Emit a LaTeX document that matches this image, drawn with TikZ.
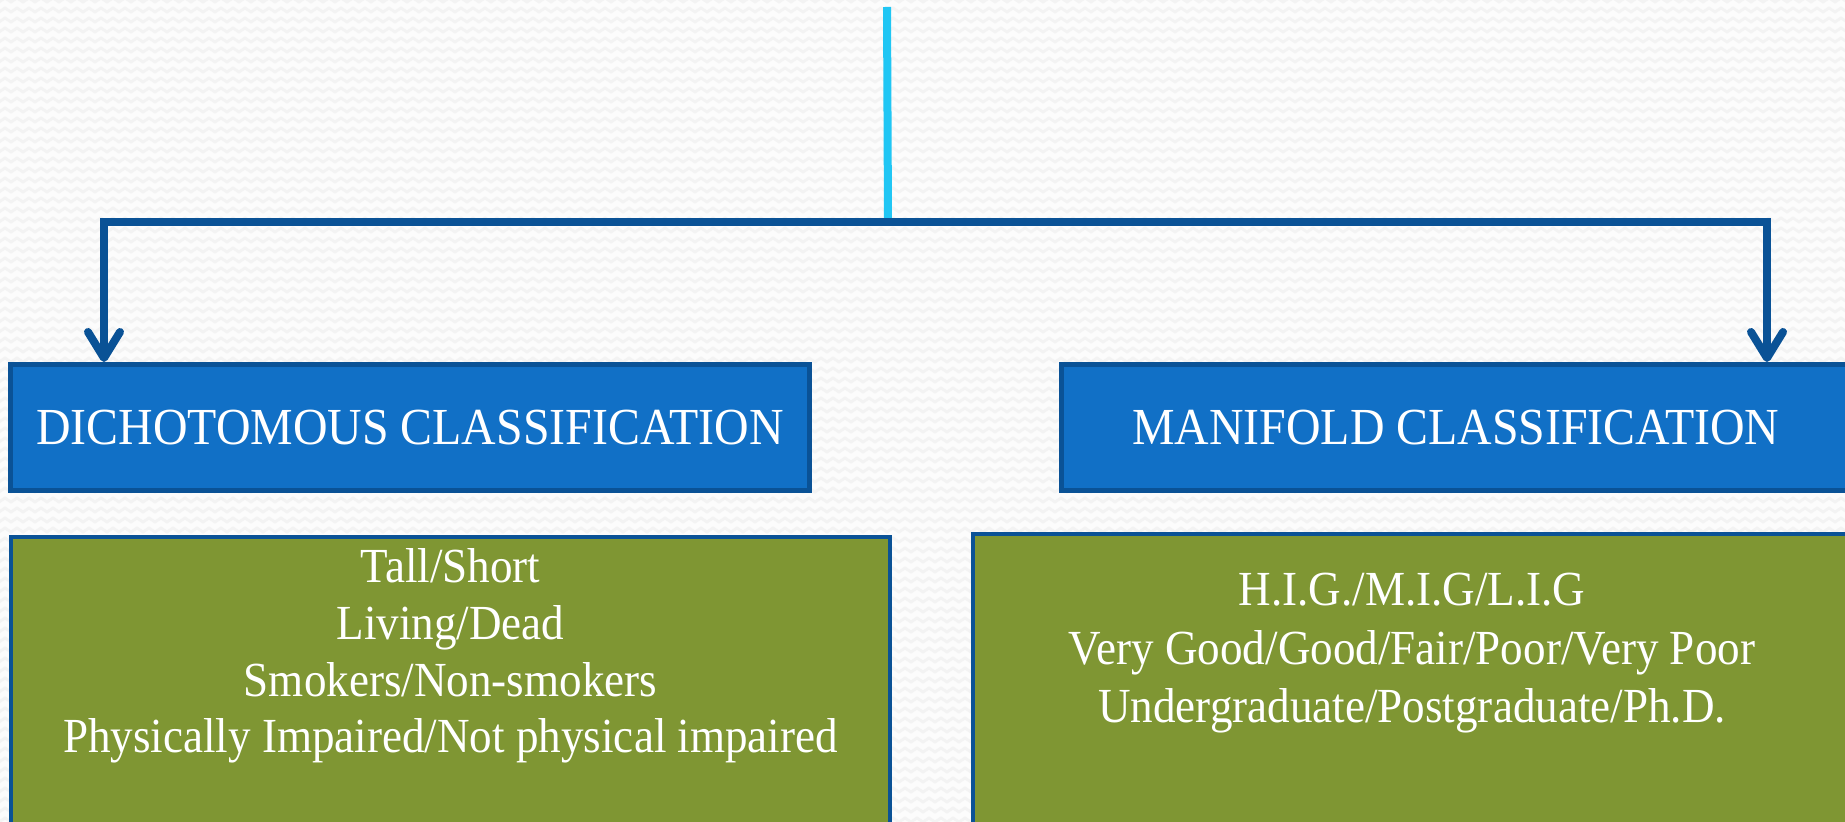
\documentclass[tikz,border=0pt]{standalone}
\usepackage{fontspec}
\setmainfont[FakeStretch=0.92]{Liberation Serif}
\usetikzlibrary{arrows.meta,decorations.pathmorphing}
\definecolor{pagebg}{HTML}{FCFCFC}
\definecolor{pagewave}{HTML}{F3F3F3}
\definecolor{boxblue}{HTML}{1170C6}
\definecolor{edgeblue}{HTML}{0A5296}
\definecolor{listgreen}{HTML}{7F9633}
\definecolor{feedcyan}{HTML}{20C6F4}
\begin{document}
\begin{tikzpicture}[x=0.5pt,y=-0.5pt,
  headbox/.style={draw=edgeblue, line width=2.5pt, fill=boxblue, text=white,
    font=\fontsize{26}{30}\selectfont, inner sep=0pt, minimum height=63pt},
  listbox/.style={draw=edgeblue, line width=2pt, fill=listgreen, inner sep=0pt},
  listtext/.style={text=white, align=center, inner sep=0pt, anchor=north},
  feed/.style={draw=feedcyan, line width=4pt},
  branch/.style={draw=edgeblue, line width=4pt,
    {Straight Barb[length=13pt,width=16pt,round]}-{Straight Barb[length=13pt,width=16pt,round]}},
  wave/.style={draw=pagewave, line width=1.4pt,
    decorate, decoration={zigzag, segment length=6pt, amplitude=1pt}}]
\useasboundingbox (0,0) rectangle (1845,822);
\fill[pagebg] (0,0) rectangle (1845,822);
\clip (0,0) rectangle (1845,822);

% faint wavy texture of the page
\foreach \r in {0,10,...,830} {
  \path[wave] (-10,\r) -- (1860,\r);
}

% category headings
\node[headbox, minimum width=399.5pt] (dich) at (410,427.5) {DICHOTOMOUS CLASSIFICATION};
\node[headbox, minimum width=394.25pt] (mani) at (1455.75,427.5) {MANIFOLD CLASSIFICATION};

% example panels
\node[listbox, minimum width=439.5pt, minimum height=146.5pt] (dichbox) at (450.5,683.5) {};
\node[listbox, minimum width=438.5pt, minimum height=148pt] (manibox) at (1411.5,682) {};

\node[listtext, font=\fontsize{24.5}{28.4}\selectfont] (dichitems) at (450.5,548)
  {Tall/Short\\Living/Dead\\Smokers/Non-smokers\\Physically Impaired/Not physical impaired};
\node[listtext, font=\fontsize{24.5}{29.2}\selectfont] (maniitems) at (1412,573)
  {H.I.G./M.I.G/L.I.G\\Very Good/Good/Fair/Poor/Very Poor\\Undergraduate/Postgraduate/Ph.D.};

% incoming feed and branching bracket
\coordinate (src) at (887,7);
\coordinate (hub) at (888,222);
\coordinate (lc) at (104,222);
\coordinate (rc) at (1767,222);
\draw[feed] (src) -- (hub);
\draw[branch] (lc |- dich.north) -- (lc) -- (rc) -- (rc |- mani.north);
\end{tikzpicture}
\end{document}
